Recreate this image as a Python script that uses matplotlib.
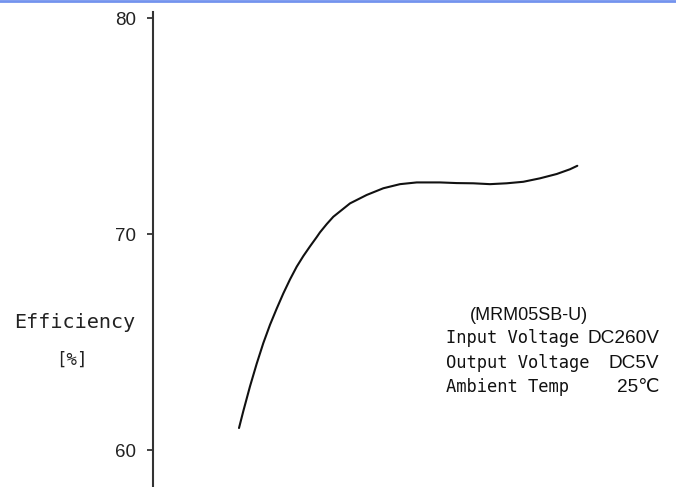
import matplotlib
matplotlib.use("Agg")
import matplotlib.pyplot as plt
from matplotlib.lines import Line2D

# efficiency curve (x: relative load, y: efficiency %)
load = [10.0, 11.14, 12.92, 14.70, 16.45, 18.23, 20.01, 21.76, 23.54, 25.32,
        27.07, 28.85, 30.63, 31.50, 33.28, 35.03, 39.47, 43.90, 48.31, 52.74,
        57.17, 63.36, 67.79, 72.20, 76.63, 81.06, 85.47, 89.90, 94.34, 97.87, 99.81]
eff = [61.02, 61.80, 62.95, 64.00, 64.95, 65.80, 66.55, 67.25, 67.90, 68.49,
       68.98, 69.43, 69.86, 70.08, 70.46, 70.80, 71.42, 71.81, 72.12, 72.31,
       72.39, 72.39, 72.36, 72.35, 72.31, 72.35, 72.42, 72.58, 72.78, 73.00, 73.16]
yticks = [60, 70, 80]
info_left = ["Input Voltage", "Output Voltage", "Ambient Temp"]
info_right = ["DC260V", "DC5V", "25℃"]
model = "(MRM05SB-U)"

W, H = 676, 487
fig = plt.figure(figsize=(W / 100, H / 100), dpi=100)
fig.patch.set_facecolor("white")

# axes: y spine at x=153, top at y=12, runs past the bottom edge
ax = fig.add_axes([153 / W, 0, (W - 153) / W, (H - 12) / H])
ax.plot(load, eff, color="#111111", lw=1.5, solid_capstyle="round", solid_joinstyle="round")
ax.set_ylim(58.29, 80.28)
ax.set_xlim(10 - 86 / 3.767, 10 + (W - 239) / 3.767)

for s in ["top", "right", "bottom"]:
    ax.spines[s].set_visible(False)
ax.spines["left"].set_linewidth(1.5)
ax.spines["left"].set_color("#333333")
ax.set_xticks([])
ax.set_yticks(yticks)
ax.set_yticklabels([str(t) for t in yticks], family=["Liberation Sans", "DejaVu Sans"], fontsize=13.5)
ax.tick_params(axis="y", direction="out", length=4, width=1.2, pad=8, colors="#222222")

# blue rule along the top edge
fig.add_artist(Line2D([0, 1], [1 - 1 / H, 1 - 1 / H], transform=fig.transFigure,
                      color="#7393ee", lw=2))

def px(x, y):
    return x / W, 1 - y / H

mono = "DejaVu Sans Mono"
sans = ["Liberation Sans", "DejaVu Sans"]
fig.text(*px(75, 328), "Efficiency", family=mono, fontsize=14.5,
         ha="center", va="baseline", color="#222222")
fig.text(*px(72, 365), "[%]", family=mono, fontsize=12.5,
         ha="center", va="baseline", color="#222222")

fig.text(*px(529, 320), model, family=sans,
         fontsize=13, ha="center", va="baseline", color="#111111")
rows_y = [343, 368, 392]
for lbl, val, yy in zip(info_left, info_right, rows_y):
    fig.text(*px(446, yy), lbl, family=mono, fontsize=12.3,
             ha="left", va="baseline", color="#111111")
    fig.text(*px(659, yy), val, family=sans,
             fontsize=13.7, ha="right", va="baseline", color="#111111")

fig.savefig("out.png", dpi=100)
